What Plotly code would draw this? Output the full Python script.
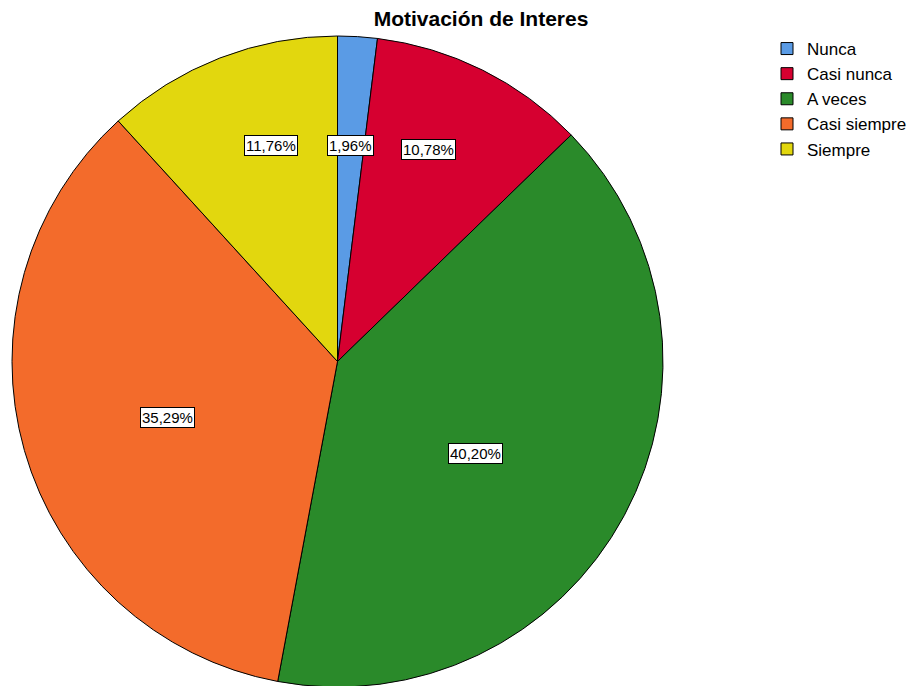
import math
import plotly.graph_objects as go

categories = ["Nunca", "Casi nunca", "A veces", "Casi siempre", "Siempre"]
counts = [2, 11, 41, 36, 12]
colors = ["#5A9BE5", "#D60030", "#2A8A2A", "#F36B2B", "#E2D70E"]
label_radius = [0.665, 0.71, 0.51, 0.55, 0.695]    # fraction of pie radius for boxed labels
label_angle_shift = [0.0, -3.3, 5.3, -2.4, 4.0]    # degrees, label placement tweak

W, H = 919, 686
OFF = 8  # page body margin offset
dom_x = [(12 - OFF) / W, (663 - OFF) / W]
dom_y = [(H - (687 - OFF)) / H, 1 - (36 - OFF) / H]

fig = go.Figure(go.Pie(
    labels=categories,
    values=counts,
    sort=False,
    direction="clockwise",
    rotation=0,
    marker=dict(colors=colors, line=dict(color="#000000", width=1)),
    textinfo="none",
    hoverinfo="label+percent",
    domain=dict(x=dom_x, y=dom_y),
))

# pie geometry in pixels (figure coordinates)
cx = (dom_x[0] + dom_x[1]) / 2 * W
cy = H - (dom_y[0] + dom_y[1]) / 2 * H
R = min((dom_x[1] - dom_x[0]) * W, (dom_y[1] - dom_y[0]) * H) / 2

total = sum(counts)
cum = 0
annotations = []
for cat, v, rf, da in zip(categories, counts, label_radius, label_angle_shift):
    mid = (cum + v / 2) / total * 2 * math.pi + math.radians(da)
    cum += v
    px = cx + rf * R * math.sin(mid)
    py = cy - rf * R * math.cos(mid)
    pct = f"{v / total * 100:.2f}".replace(".", ",") + "%"
    annotations.append(dict(
        x=px / W, y=1 - py / H, xref="paper", yref="paper",
        xanchor="center", yanchor="middle",
        text=pct, showarrow=False,
        font=dict(family="Liberation Sans, Arial, sans-serif", size=15, color="#000000"),
        bgcolor="#FFFFFF", bordercolor="#000000", borderwidth=1, borderpad=1,
    ))

fig.update_layout(
    width=W, height=H,
    margin=dict(l=0, r=0, t=0, b=0),
    paper_bgcolor="#FFFFFF",
    plot_bgcolor="#FFFFFF",
    title=dict(text="<b>Motivación de Interes</b>", x=(481 - OFF) / W, xanchor="center",
               y=1 - (19 - OFF) / H, yanchor="middle", pad=dict(t=0, b=0),
               font=dict(family="Liberation Sans, Arial, sans-serif", size=21, color="#000000")),
    legend=dict(x=(767 - OFF) / W, y=1 - (31 - OFF) / H, xanchor="left", yanchor="top",
                font=dict(family="Liberation Sans, Arial, sans-serif", size=17, color="#000000"),
                tracegroupgap=0, itemwidth=30, bgcolor="rgba(0,0,0,0)"),
    annotations=annotations,
)

fig.write_html("out.html")
